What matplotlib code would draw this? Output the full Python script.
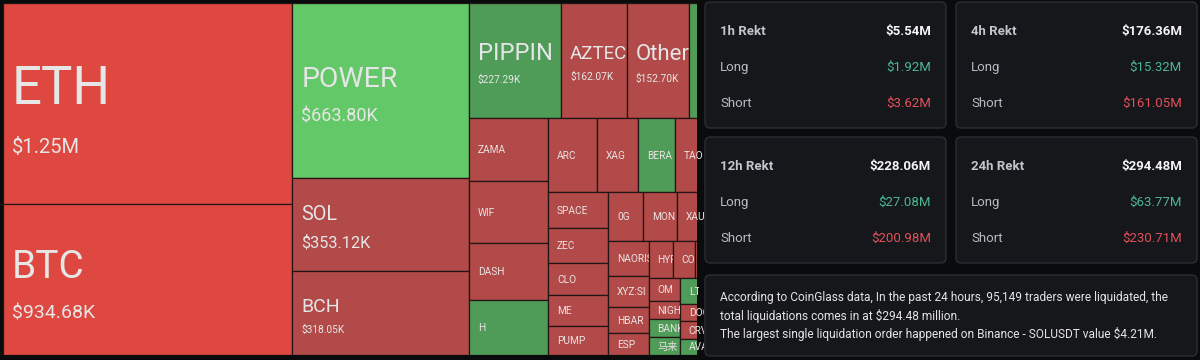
import matplotlib
matplotlib.use("Agg")
import matplotlib.pyplot as plt
from matplotlib.patches import Rectangle, FancyBboxPatch

plt.rcParams['font.family'] = ['Roboto', 'Noto Sans CJK SC']

# 1h liquidations per coin, USD thousands (tickers cut off by the crop are guesses,
# "" = cell fully outside the visible crop)
coins = ["ETH", "BTC", "POWER", "SOL", "BCH", "PIPPIN", "AZTEC", "Others", "",
         "ZAMA", "WIF", "DASH", "H", "ARC", "XAG", "BERA", "TAO", "",
         "SPACE", "ZEC", "CLO", "ME", "PUMP", "0G", "MON", "XAU", "",
         "NAORIS", "XYZ:SI", "HBAR", "ESP", "HYPE", "COAI", "", "",
         "OM", "NIGHT", "BANK", "马来", "LTC", "", "", "DOGE", "CRV", "AVAX",
         "", "", "", "", ""]
liq_k = [1250.0, 934.68, 663.80, 353.12, 318.05, 227.29, 162.07, 152.70, 117.7,
         106.8, 105.1, 96.6, 93.2, 77.8, 65.1, 58.8, 49.0, 48.5,
         46.4, 45.1, 41.2, 39.9, 37.3, 36.8, 35.8, 31.5, 31.0,
         30.0, 27.5, 22.3, 19.4, 19.2, 17.5, 16.8, 16.0,
         15.3, 12.6, 12.0, 11.9, 10.9, 10.5, 10.2, 9.0, 8.8, 8.5,
         8.0, 7.5, 7.0, 6.5, 6.5]
# R/G = strong short/long, r/g = weaker
tone = ["R", "R", "G", "r", "r", "g", "r", "r", "g",
        "r", "r", "r", "g", "r", "r", "g", "r", "r",
        "r", "r", "r", "r", "r", "r", "r", "r", "r",
        "r", "r", "r", "r", "r", "r", "r", "r",
        "r", "r", "g", "g", "g", "r", "r", "r", "r", "g",
        "r", "r", "r", "r", "r"]

periods = ["1h", "4h", "12h", "24h"]
total_m = [5.54, 176.36, 228.06, 294.48]
long_m = [1.92, 15.32, 27.08, 63.77]
short_m = [3.62, 161.05, 200.98, 230.71]

summary = ["According to CoinGlass data, In the past 24 hours, 95,149 traders were liquidated, the",
           "total liquidations comes in at $294.48 million.",
           "The largest single liquidation order happened on Binance - SOLUSDT value $4.21M."]

tone_colors = {"R": "#df4841", "r": "#b14a48", "G": "#63c868", "g": "#4f9b58"}
name_size = {"ETH": 38, "BTC": 28, "POWER": 20.5, "SOL": 14.3, "BCH": 14,
             "PIPPIN": 17, "AZTEC": 13.5, "Others": 16}
value_size = {"ETH": 14.5, "BTC": 14, "POWER": 13, "SOL": 11.7, "BCH": 7.3,
              "PIPPIN": 7.3, "AZTEC": 7.3, "Others": 7.3}


def worst(areas, L, ratio):
    s = sum(areas)
    f = L * L * ratio
    return max(f * max(areas) / (s * s), (s * s) / (f * min(areas)))


def place(row, L, rect, out, flush):
    area = sum(a for _, a in row)
    horiz = L == rect[2]
    other = area / L
    lim = rect[3] if horiz else rect[2]
    if flush or other > lim:
        other = lim
    pos = rect[0] if horiz else rect[1]
    end = pos + (rect[2] if horiz else rect[3])
    for k, (i, a) in enumerate(row):
        step = a / other
        if k == len(row) - 1 or end - pos < step:
            step = end - pos
        if horiz:
            out[i] = (pos, rect[1], step, other)
        else:
            out[i] = (rect[0], pos, other, step)
        pos += step
    if horiz:
        rect[1] += other
        rect[3] -= other
    else:
        rect[0] += other
        rect[2] -= other


def squarify(values, w, h, ratio=0.5 * (1 + 5 ** 0.5)):
    # echarts-style squarified layout
    order = sorted(range(len(values)), key=lambda i: -values[i])
    scale = w * h / sum(values)
    items = [(i, values[i] * scale) for i in order]
    rect = [0.0, 0.0, w, h]
    out = {}
    row, best = [], float("inf")
    L = min(w, h)
    while items:
        row.append(items[0])
        score = worst([a for _, a in row], L, ratio)
        if score <= best:
            items.pop(0)
            best = score
        else:
            row.pop()
            place(row, L, rect, out, False)
            L = min(rect[2], rect[3])
            row, best = [], float("inf")
    if row:
        place(row, L, rect, out, True)
    return out


def fmt(v):
    return "$%.2fM" % (v / 1000) if v >= 1000 else "$%.2fK" % v


fig = plt.figure(figsize=(12, 3.6), dpi=100, facecolor="#0a0b0d")

# treemap; only its left part is visible (the screenshot is cropped)
tree_h, vis_w = 352, 694
px_per_k = 46.6
tree_w = sum(liq_k) * px_per_k / tree_h
ax = fig.add_axes([3 / 1200, 5 / 360, vis_w / 1200, tree_h / 360])
ax.set_xlim(0, vis_w)
ax.set_ylim(tree_h, 0)
ax.axis("off")

cells = squarify(liq_k, tree_w, tree_h)
for i, name in enumerate(coins):
    x, y, w, h = cells[i]
    r = Rectangle((x, y), w, h, facecolor=tone_colors[tone[i]],
                  edgecolor="#231515", linewidth=0.9)
    ax.add_patch(r)
    if not name or x + 9 > vis_w - 2:
        continue
    fs = name_size.get(name, 7.3)
    px = fs * 100 / 72
    texts = []
    if name in value_size:
        vpx = value_size[name] * 100 / 72
        cap = 0.71 * px
        d = 0.5 * px + 1.1 * vpx
        top = y + h / 2 + 0.12 * px - (cap + d) / 2
        texts.append(ax.text(x + 9, top + cap, name, fontsize=fs, color="#e6e6e6"))
        texts.append(ax.text(x + 9, top + cap + d, fmt(liq_k[i]),
                             fontsize=value_size[name], color="#e6e6e6"))
    else:
        texts.append(ax.text(x + 9, y + h / 2 + 0.36 * px, name, fontsize=fs,
                             color="#ebe3e3"))
    for t in texts:
        t.set_clip_on(True)
        t.set_clip_box(ax.bbox)
        t.set_clip_path(r)

# stats cards
ov = fig.add_axes([0, 0, 1, 1], zorder=5)
ov.set_xlim(0, 1200)
ov.set_ylim(360, 0)
ov.axis("off")

card_x = [705, 956]
card_y = [2, 137]
for k, p in enumerate(periods):
    cx = card_x[k % 2]
    cy = card_y[k // 2]
    ov.add_patch(FancyBboxPatch((cx, cy), 241, 126,
                                boxstyle="round,pad=0,rounding_size=5",
                                facecolor="#15171b", edgecolor="#2b2e34", linewidth=1))
    lx, rx = cx + 15, cx + 226
    ov.text(lx, cy + 29.5, p + " Rekt", fontsize=9.5, fontweight="bold",
            color="#c2c5cb", va="center", family="Roboto")
    ov.text(rx, cy + 29.5, "$%.2fM" % total_m[k], fontsize=9.5, fontweight="bold",
            color="#f4f4f4", va="center", ha="right", family="Roboto")
    ov.text(lx, cy + 65.5, "Long", fontsize=9.5, color="#b8bbc1", va="center",
            family="Roboto")
    ov.text(rx, cy + 65.5, "$%.2fM" % long_m[k], fontsize=9.5, color="#4cb88f",
            va="center", ha="right", family="Roboto")
    ov.text(lx, cy + 101.5, "Short", fontsize=9.5, color="#b8bbc1", va="center",
            family="Roboto")
    ov.text(rx, cy + 101.5, "$%.2fM" % short_m[k], fontsize=9.5, color="#e2505b",
            va="center", ha="right", family="Roboto")

ov.add_patch(FancyBboxPatch((705, 275), 492, 81,
                            boxstyle="round,pad=0,rounding_size=5",
                            facecolor="#15171b", edgecolor="#2b2e34", linewidth=1))
for j, line in enumerate(summary):
    ov.text(720, 298 + 17.8 * j, line, fontsize=8.6, color="#e4e4e4", va="center",
            family="Roboto")

fig.savefig("out.png", dpi=100, facecolor=fig.get_facecolor())
